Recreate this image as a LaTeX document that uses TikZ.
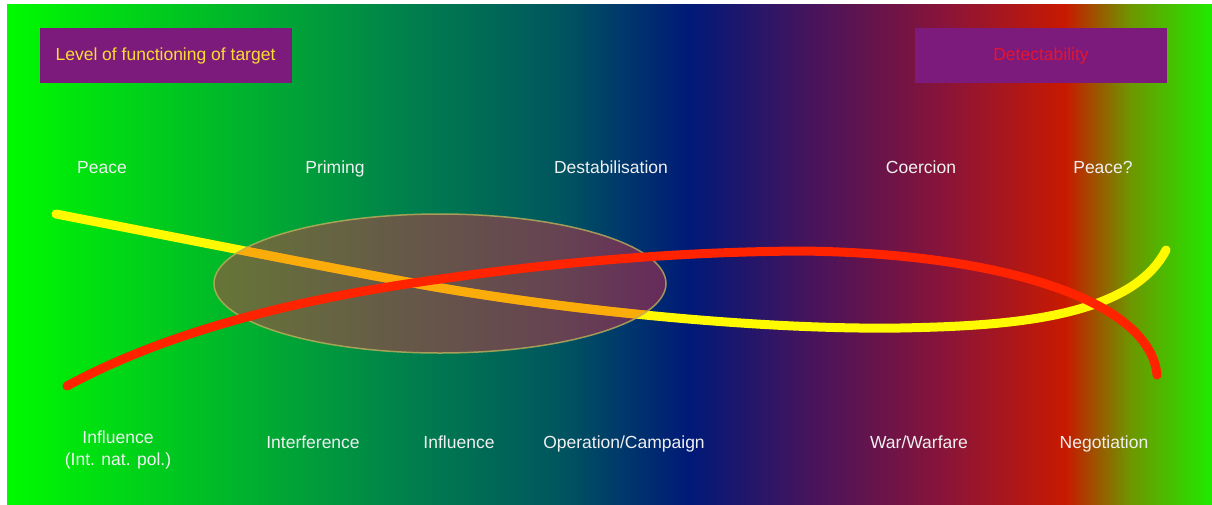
\documentclass[tikz,border=0pt]{standalone}
\usepackage{fontspec}
\setmainfont{Liberation Sans}
\definecolor{c0}{RGB}{0,250,0}
\definecolor{c1}{RGB}{0,130,75}
\definecolor{c2}{RGB}{0,85,95}
\definecolor{c3}{RGB}{0,25,120}
\definecolor{c4}{RGB}{65,20,95}
\definecolor{c5}{RGB}{140,20,55}
\definecolor{c6}{RGB}{200,25,0}
\definecolor{c7}{RGB}{110,150,0}
\definecolor{c8}{RGB}{30,235,0}
\definecolor{boxpurple}{RGB}{125,27,125}
\definecolor{lvlyellow}{RGB}{250,220,50}
\definecolor{detred}{RGB}{230,20,45}
\definecolor{lblwhite}{RGB}{240,240,240}
\definecolor{ellfill}{RGB}{205,50,70}
\definecolor{elldraw}{RGB}{190,175,90}
\definecolor{curveyellow}{RGB}{255,250,0}
\definecolor{curvered}{RGB}{255,35,0}
\pgfdeclarehorizontalshading{bgshade}{100bp}{color(0bp)=(c0); color(25bp)=(c0); color(41.31bp)=(c1); color(47.95bp)=(c2); color(53.34bp)=(c3); color(57.9bp)=(c4); color(64.13bp)=(c5); color(68.9bp)=(c6); color(71.6bp)=(c7); color(75bp)=(c8); color(100bp)=(c8)}
\tikzset{
  titlebox/.style={fill=boxpurple, minimum width=252pt, minimum height=55pt, inner sep=0pt, font=\fontsize{17.5}{21}\selectfont},
  lbl/.style={text=lblwhite, font=\fontsize{17.5}{22}\selectfont, align=center, inner sep=0pt, anchor=base},
  curve/.style={line width=9pt, line cap=round},
  ellshape/.style={fill=ellfill, fill opacity=0.5}
}
\begin{document}
\begin{tikzpicture}[x=1pt,y=-1pt]
\useasboundingbox (0,0) rectangle (1212,504);
\fill[white] (0,0) rectangle (1212,504);
\shade[shading=bgshade] (7,4) rectangle (1212,504);
% boxes
\node[titlebox, text=lvlyellow] (lvl) at (165.5,55.5) {Level of functioning of target};
\node[titlebox, text=detred] (det) at (1041,55.5) {Detectability};
% top labels
\node[lbl] (peace) at (102,173) {Peace};
\node[lbl] (priming) at (335,173) {Priming};
\node[lbl] (destab) at (611,173) {Destabilisation};
\node[lbl] (coercion) at (921,173) {Coercion};
\node[lbl] (peaceq) at (1103,173) {Peace?};
% bottom labels
\node[lbl] (infl1) at (118,443) {Influence};
\node[lbl] (infl1b) at (118,465) {(Int. nat. pol.)};
\node[lbl] (interf) at (313,448) {Interference};
\node[lbl] (infl2) at (459,448) {Influence};
\node[lbl] (opcamp) at (624,448) {Operation/Campaign};
\node[lbl] (war) at (919,448) {War/Warfare};
\node[lbl] (negot) at (1104,448) {Negotiation};
% yellow curve (level of functioning)
\draw[curve, curveyellow] (56,214) .. controls (200,242) and (320,266) .. (413,283)
  .. controls (560,310) and (760,330) .. (900,328)
  .. controls (1000,326) and (1130,320) .. (1166,250);
% ellipse (yellow seen through it looks orange)
\fill[ellshape] (440,283.5) ellipse [x radius=226, y radius=69.5];
\begin{scope}
  \clip (440,283.5) ellipse [x radius=226, y radius=69.5];
  \draw[curve, color={rgb,255:red,250;green,172;blue,10}] (56,214) .. controls (200,242) and (320,266) .. (413,283)
    .. controls (560,310) and (760,330) .. (900,328);
\end{scope}
\draw[elldraw, draw opacity=0.8, line width=1.5pt] (440,283.5) ellipse [x radius=226, y radius=69.5];
% red curve (detectability)
\draw[curve, curvered] (67,386) .. controls (170,330) and (300,300) .. (413,283)
  .. controls (560,261) and (680,252) .. (800,251)
  .. controls (1000,253) and (1150,300) .. (1157,375);
\end{tikzpicture}
\end{document}
